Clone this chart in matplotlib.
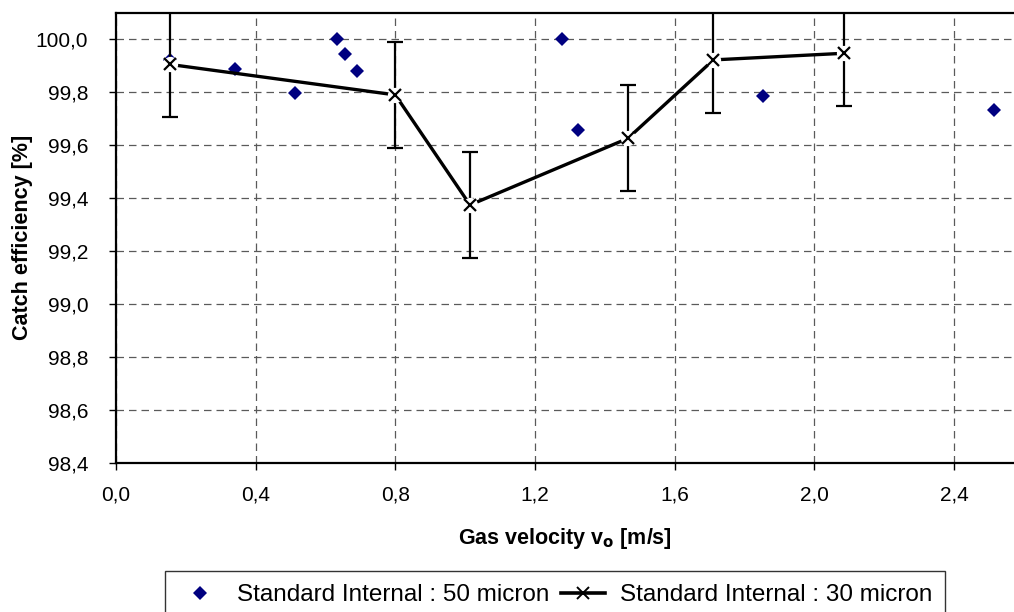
import matplotlib.pyplot as plt
from matplotlib.ticker import FuncFormatter

plt.rcParams['font.family'] = ['Liberation Sans', 'DejaVu Sans']

# --- data ---
v50 = [0.154, 0.342, 0.513, 0.633, 0.657, 0.690, 1.276, 1.322, 1.854, 2.515]
eff50 = [99.92, 99.886, 99.795, 100.0, 99.941, 99.879, 100.0, 99.655, 99.785, 99.73]

v30 = [0.154, 0.80, 1.014, 1.466, 1.711, 2.085]
eff30 = [99.903, 99.788, 99.373, 99.624, 99.92, 99.945]
err30 = [0.2, 0.2, 0.2, 0.2, 0.2, 0.2]

xticks = [0.0, 0.4, 0.8, 1.2, 1.6, 2.0, 2.4]
yticks = [98.4, 98.6, 98.8, 99.0, 99.2, 99.4, 99.6, 99.8, 100.0]


def comma(v, pos):
    return f"{v:.1f}".replace('.', ',')


fig = plt.figure(figsize=(10.14, 6.12), dpi=100)
ax = fig.add_axes([116 / 1014, 1 - 463 / 612, 1 - 116 / 1014, (463 - 12.7) / 612])

ax.plot(v50, eff50, linestyle='none', marker='D', markersize=7.5, color='#000080',
        markeredgewidth=0, zorder=3, label='Standard Internal : 50 micron')

ax.errorbar(v30, eff30, yerr=err30, fmt='none', ecolor='black', elinewidth=1.6,
            capsize=6, capthick=1.6, zorder=4)
ax.plot(v30, eff30, color='black', linewidth=2.4, zorder=5)
# white halo so lines break around the markers
ax.plot(v30, eff30, linestyle='none', marker='o', markersize=11, color='white',
        markeredgewidth=0, zorder=6)
ax.plot(v30, eff30, linestyle='none', marker='x', markersize=9, color='black',
        markeredgewidth=1.6, zorder=7)
ax.plot([], [], color='black', linewidth=2.6, marker='x', markersize=8,
        markeredgewidth=1.4, label='Standard Internal : 30 micron')

ax.set_xlim(0, 2.572)
ax.set_ylim(98.4, 100.098)
ax.set_xticks(xticks)
ax.set_yticks(yticks)
ax.xaxis.set_major_formatter(FuncFormatter(comma))
ax.yaxis.set_major_formatter(FuncFormatter(comma))
ax.tick_params(axis='both', direction='out', length=5, width=1, labelsize=15, color='black')
ax.tick_params(axis='x', pad=11)
ax.tick_params(axis='y', pad=15)

ax.grid(True, color='#5a5a5a', linestyle=(0, (6, 4)), linewidth=0.9)
ax.set_axisbelow(True)
for side in ['left', 'bottom', 'top']:
    ax.spines[side].set_linewidth(1.6)
    ax.spines[side].set_color('black')
ax.spines['right'].set_visible(False)

ax.set_xlabel('Gas velocity v$_\\mathbf{o}$ [m/s]', fontsize=15.5, fontweight='bold', labelpad=16)
ax.set_ylabel('Catch efficiency [%]', fontsize=15.5, fontweight='bold', labelpad=2)

leg = fig.legend(loc='upper left', bbox_to_anchor=(165 / 1014, 1 - 571 / 612), ncol=2,
                 fontsize=17.5, frameon=True, fancybox=False, edgecolor='black',
                 handlelength=1.8, handletextpad=0.6, columnspacing=0.5,
                 borderpad=0.55, borderaxespad=0)
leg.get_frame().set_linewidth(1.0)

fig.savefig('out.png', dpi=100)
